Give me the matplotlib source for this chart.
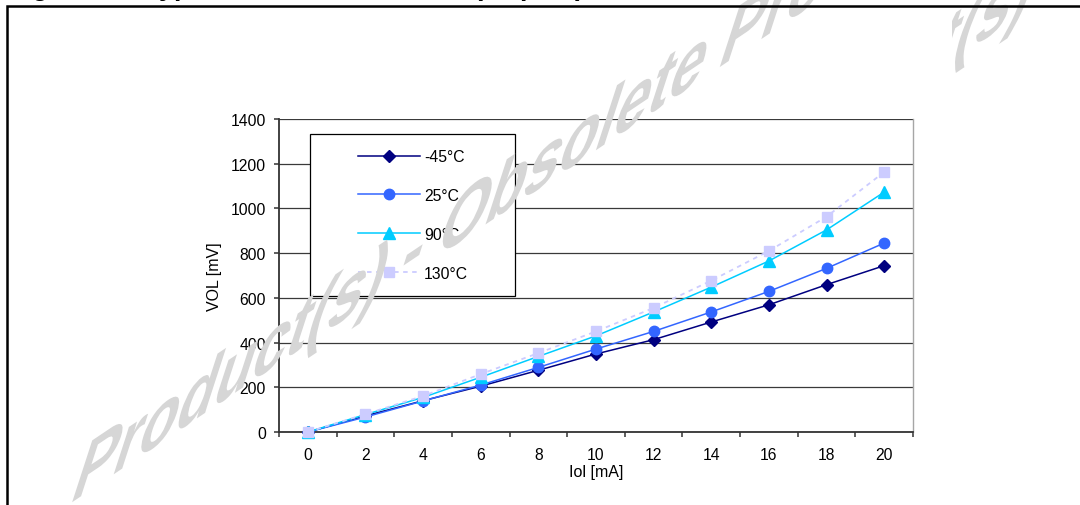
import numpy as np
import matplotlib
matplotlib.use('Agg')
import matplotlib.pyplot as plt
from matplotlib.patches import Rectangle, PathPatch
from matplotlib.textpath import TextPath
from matplotlib.font_manager import FontProperties
from matplotlib.transforms import Affine2D

# ---- Data ----
iol_ma = [0, 2, 4, 6, 8, 10, 12, 14, 16, 18, 20]
vol_m45 = [0, 72, 140, 205, 276, 349, 413, 492, 569, 659, 744]
vol_25 = [0, 67, 139, 210, 289, 371, 450, 537, 629, 732, 845]
vol_90 = [0, 78, 155, 245, 338, 430, 537, 648, 765, 904, 1073]
vol_130 = [0, 80, 161, 259, 353, 450, 555, 677, 810, 963, 1163]
temp_labels = ['-45°C', '25°C', '90°C', '130°C']
y_ticks = [0, 200, 400, 600, 800, 1000, 1200, 1400]

title = r"Figure 44. Typical V$_{\mathbf{OL}}$ at V$_{\mathbf{DD}}$ = 3.3 V (20 pins)"
watermark_text = 'Product(s) - Obsolete Product(s)'

# ---- Style ----
plt.rcParams['font.family'] = ['Liberation Sans', 'DejaVu Sans']
plt.rcParams['mathtext.fontset'] = 'custom'
plt.rcParams['mathtext.rm'] = 'Liberation Sans:bold'
plt.rcParams['mathtext.bf'] = 'Liberation Sans:bold'

W, H = 1080, 506
fig = plt.figure(figsize=(W / 100, H / 100), dpi=100)
# pixel coords (origin bottom-left) -> display
px = Affine2D().scale(1.0 / W, 1.0 / H) + fig.transFigure

ax = fig.add_axes([279 / W, (H - 433) / H, 634 / W, 313 / H])

# ---- Series ----
ax.plot(iol_ma, vol_m45, color='#000080', marker='D', ms=6, lw=1.1,
        label=temp_labels[0], clip_on=False, zorder=3)
ax.plot(iol_ma, vol_25, color='#3366FF', marker='o', ms=7.5, lw=1.1,
        label=temp_labels[1], clip_on=False, zorder=3)
ax.plot(iol_ma, vol_90, color='#00CCFF', marker='^', ms=8, lw=1.1,
        label=temp_labels[2], clip_on=False, zorder=3)
ax.plot(iol_ma, vol_130, color='#CCCCFF', marker='s', ms=7.5, lw=1.3,
        ls=(0, (2.5, 2.5)), label=temp_labels[3], clip_on=False, zorder=3)

# ---- Axes ----
ax.set_xlim(-1, 21)
ax.set_ylim(0, 1400)
ax.set_xticks(iol_ma)
ax.set_xticklabels([str(v) for v in iol_ma])
ax.set_xticks(np.arange(-1, 22, 2), minor=True)
ax.tick_params(axis='x', which='major', length=0, pad=10.5, labelsize=11.3)
ax.tick_params(axis='x', which='minor', length=3.6, width=1.1,
               color='#333333', direction='out')
ax.set_yticks(y_ticks)
ax.tick_params(axis='y', length=3.6, width=1.1, pad=5.8, labelsize=11.3,
               color='#333333')
ax.yaxis.grid(True, color='#3a3a3a', lw=0.9)
ax.set_axisbelow(True)

ax.spines['top'].set_visible(False)
ax.spines['left'].set_color('#333333')
ax.spines['left'].set_linewidth(1.3)
ax.spines['bottom'].set_color('#333333')
ax.spines['bottom'].set_linewidth(1.3)
ax.spines['right'].set_color('#a6a6a6')
ax.spines['right'].set_linewidth(1.0)

ax.set_xlabel('Iol [mA]', fontsize=11.5, labelpad=2)
ax.set_ylabel('VOL [mV]', fontsize=11.5, labelpad=6.5)

# ---- Legend (boxed, wider than its content) ----
ax.add_patch(Rectangle((0.0489, 0.4345), 0.3233, 0.5175, transform=ax.transAxes,
                       fc='white', ec='black', lw=0.9, zorder=4))
leg = ax.legend(loc='upper left', bbox_to_anchor=(0.1246, 0.904),
                borderpad=0, borderaxespad=0, frameon=False, fontsize=11.3,
                handlelength=3.95, handletextpad=0.25, labelspacing=1.52)
leg.set_zorder(5)

# ---- Watermark ----
fp = FontProperties(family='Liberation Sans', weight='bold')


def watermark(x0, y0, zorder):
    tp = TextPath((0, 0), watermark_text, size=62, prop=fp)
    tr = (Affine2D().scale(1.0, 1.45).skew_deg(18, 33.9)
          .translate(x0, y0) + px)
    fig.add_artist(PathPatch(tp, transform=tr, fc='#d6d6d6', ec='none',
                             zorder=zorder))


watermark(68, 0, 10)
watermark(68, -150, -2)
# second watermark line sits behind the chart picture
fig.add_artist(Rectangle((100, H - 487), 852, 487, transform=px,
                         fc='white', ec='none', zorder=-1))
fig.add_artist(Rectangle((0, -5), 318, 30, transform=px,
                         fc='white', ec='none', zorder=-1))

# ---- Page frame and clipped caption ----
fig.add_artist(Rectangle((7, -20), 1200, H - 7 + 20, transform=px,
                         fill=False, ec='black', lw=1.8, zorder=12))
fig.text(8 / W, (H + 4.5) / H, title, fontsize=19.4, fontweight='bold',
         ha='left', va='baseline')

fig.savefig('out.png', dpi=100)
